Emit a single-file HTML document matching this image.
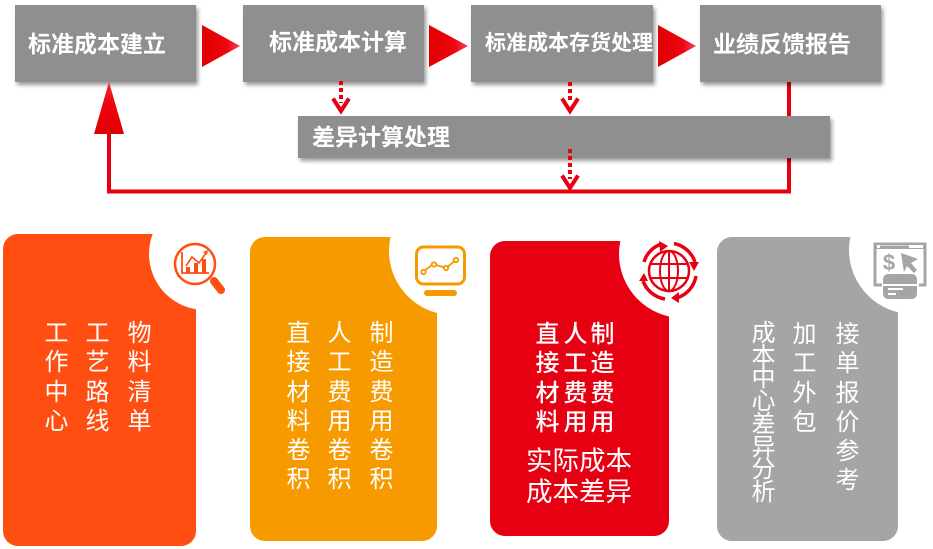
<!DOCTYPE html>
<html><head><meta charset="utf-8">
<style>
html,body{margin:0;padding:0;background:#fff}
#p{position:relative;width:933px;height:549px;overflow:hidden;background:#fff;font-family:"Liberation Sans","Noto Sans CJK SC",sans-serif}
.b{position:absolute;background:#8f8f8f;box-shadow:2px 3px 4px rgba(0,0,0,.4)}
.t{position:absolute;color:#fff;font-weight:700;font-size:23px;line-height:30px;white-space:nowrap}
.c{position:absolute;color:#fff;font-size:24px;width:24px;line-height:29.3px;text-align:center;word-break:break-all}
.h{position:absolute;color:#fff;font-size:26.500px;line-height:31px;white-space:nowrap}
svg{position:absolute;left:0;top:0}
</style></head><body><div id="p">
<svg width="933" height="549" viewBox="0 0 933 549" style="z-index:0">
<defs>
<linearGradient id="g" x1="0" x2="1" y1="0" y2="0"><stop offset="0" stop-color="#df0000"/><stop offset=".65" stop-color="#ee0510"/><stop offset="1" stop-color="#f24050"/></linearGradient>
<linearGradient id="gu" x1="0" x2="0" y1="1" y2="0"><stop offset="0" stop-color="#df0000"/><stop offset=".6" stop-color="#ee0510"/><stop offset="1" stop-color="#f02a3a"/></linearGradient>
</defs>
<path d="M109 134V191.500H789V82" fill="none" stroke="#e60012" stroke-width="4"/>
</svg>
<div class="b" style="left:15px;top:5px;width:181px;height:77px"></div>
<div class="b" style="left:243px;top:5px;width:181px;height:77px"></div>
<div class="b" style="left:471px;top:5px;width:182px;height:77px"></div>
<div class="b" style="left:700px;top:5px;width:181px;height:77px"></div>
<div class="b" style="left:298px;top:116px;width:532px;height:42px"></div>
<svg width="933" height="549" viewBox="0 0 933 549" style="z-index:1">
<defs>
<clipPath id="c1"><rect x="3" y="234" width="193" height="312"/></clipPath>
<clipPath id="c2"><rect x="250" y="237" width="187" height="304"/></clipPath>
<clipPath id="c3"><rect x="490" y="241" width="179" height="295"/></clipPath>
<clipPath id="c4"><rect x="717" y="237" width="181" height="304"/></clipPath>
</defs>
<g fill="url(#g)">
<path d="M202 25L240 46L202 67Z"/>
<path d="M429 25L468 46L429 67Z"/>
<path d="M658 25L696 46L658 67Z"/>
</g>
<path d="M109 82L124 134H94Z" fill="url(#gu)"/>
<g fill="none" stroke="#e60012" stroke-width="4">
<path d="M341 81V103" stroke-dasharray="4 3"/>
<path d="M570 82V103" stroke-dasharray="4 3"/>
<path d="M570 149V179" stroke-dasharray="4 3"/>
<path d="M333 98.500L341 111L349 98.500"/>
<path d="M562 98.500L570 111L578 98.500"/>
<path d="M562 175.500L570 188L578 175.500"/>
</g>
<!-- panels -->
<rect x="3" y="234" width="193" height="312" rx="15" fill="#ff4e11"/>
<rect x="250" y="237" width="187" height="304" rx="15" fill="#f69a00"/>
<rect x="490" y="241" width="179" height="295" rx="15" fill="#e60012"/>
<rect x="717" y="237" width="181" height="304" rx="15" fill="#a5a5a5"/>
<circle cx="205" cy="254" r="56" fill="#fff" clip-path="url(#c1)"/>
<circle cx="453" cy="251" r="64" fill="#fff" clip-path="url(#c2)"/>
<circle cx="683" cy="254" r="64" fill="#fff" clip-path="url(#c3)"/>
<circle cx="913" cy="250" r="64" fill="#fff" clip-path="url(#c4)"/>
<!-- icon 1 -->
<g fill="none" stroke="#ff4e11">
<circle cx="195" cy="264" r="20" stroke-width="2.500"/>
<path d="M214 281L221 290" stroke-width="8" stroke-linecap="round"/>
<path d="M182 252V273H209" stroke-width="1.800"/>
<path d="M186 266L192 257L199 263L206 253" stroke-width="1.600"/>
</g>
<g fill="#ff4e11"><rect x="186" y="267" width="4" height="6"/><rect x="194" y="263" width="4" height="10"/><rect x="202" y="259" width="4" height="14"/><path d="M203 252L208 250L207 255Z"/></g>
<!-- icon 2 -->
<g fill="none" stroke="#f69a00">
<rect x="416.500" y="247" width="48" height="37" rx="7" stroke-width="3"/>
<path d="M423 272L433 264L446 268L456 260" stroke-width="1.800"/>
<circle cx="423.500" cy="272" r="2.200" fill="#fff" stroke-width="1.800"/>
<circle cx="434" cy="264.500" r="2.200" fill="#fff" stroke-width="1.800"/>
<circle cx="446" cy="268" r="2.200" fill="#fff" stroke-width="1.800"/>
<circle cx="456" cy="260" r="2.200" fill="#fff" stroke-width="1.800"/>
</g>
<rect x="424" y="290" width="33" height="6" rx="3" fill="#f69a00"/>
<!-- icon 3 -->
<g fill="none" stroke="#e60012">
<circle cx="669" cy="271" r="20" stroke-width="2.500"/>
<ellipse cx="669" cy="271" rx="9" ry="20" stroke-width="2"/>
<path d="M669 251V291M650 264H688M650 278H688" stroke-width="2"/>
<path d="M644 262A27 27 0 0 1 660 244.500" stroke-width="3.500"/>
<path d="M674 243.500A28 28 0 0 1 695 262" stroke-width="3.500"/>
<path d="M696 276A28 28 0 0 1 677 298" stroke-width="3.500"/>
<path d="M665 299A28 28 0 0 1 643 281" stroke-width="3.500"/>
</g>
<g fill="#e60012">
<path d="M659 241L668 246L660 252Z"/>
<path d="M689 262L699 262L694 271Z"/>
<path d="M679 292L679 303L671 298Z"/>
<path d="M639 281L648 281L644 273Z"/>
</g>
<!-- icon 4 -->
<g fill="none" stroke="#a5a5a5">
<path d="M882 285H875V244H925V285H919" stroke-width="3"/>
<path d="M875 247.500H925" stroke-width="3"/>
</g>
<g fill="#a5a5a5">
<path d="M901 253L918 259L911 263L917 270L914 273L907 266L904 272Z"/>
<path d="M883 280Q883 274 889 274H911Q917 274 917 280V284H883Z"/>
<path d="M883 286H917V293Q917 299 911 299H889Q883 299 883 293Z"/>
</g>
<g fill="#fff"><rect x="888" y="288" width="15" height="2"/><rect x="888" y="293" width="8" height="2"/></g>
<rect x="877" y="245" width="3" height="3" fill="#fff"/>
<rect x="909" y="245" width="14" height="3" fill="#fff"/>
<text x="889" y="270" font-size="22" font-weight="700" fill="#a5a5a5" text-anchor="middle" font-family="Liberation Sans, sans-serif">$</text>
</svg>
<div style="position:relative;z-index:2">
<div class="t" style="left:28px;top:29px">标准成本建立</div>
<div class="t" style="left:269px;top:27px">标准成本计算</div>
<div class="t" style="left:485px;top:29px;font-size:21px">标准成本存货处理</div>
<div class="t" style="left:713px;top:29px">业绩反馈报告</div>
<div class="t" style="left:312px;top:122px">差异计算处理</div>
<div class="c" style="left:44.500px;top:319px">工作中心</div>
<div class="c" style="left:85.500px;top:319px">工艺路线</div>
<div class="c" style="left:127.500px;top:319px">物料清单</div>
<div class="c" style="left:286.500px;top:319px">直接材料卷积</div>
<div class="c" style="left:327.500px;top:319px">人工费用卷积</div>
<div class="c" style="left:369.500px;top:319px">制造费用卷积</div>
<div class="c" style="left:535.500px;top:320px;font-weight:500">直接材料</div>
<div class="c" style="left:563.500px;top:320px;font-weight:500">人工费用</div>
<div class="c" style="left:590.500px;top:320px;font-weight:500">制造费用</div>
<div class="h" style="left:526px;top:446px">实际成本</div>
<div class="h" style="left:526px;top:477px">成本差异</div>
<div class="c" style="left:751.500px;top:323px;line-height:22.700px">成本中心差异分析</div>
<div class="c" style="left:792.500px;top:320px">加工外包</div>
<div class="c" style="left:835.500px;top:320px">接单报价参考</div>
</div>
</div></body></html>
